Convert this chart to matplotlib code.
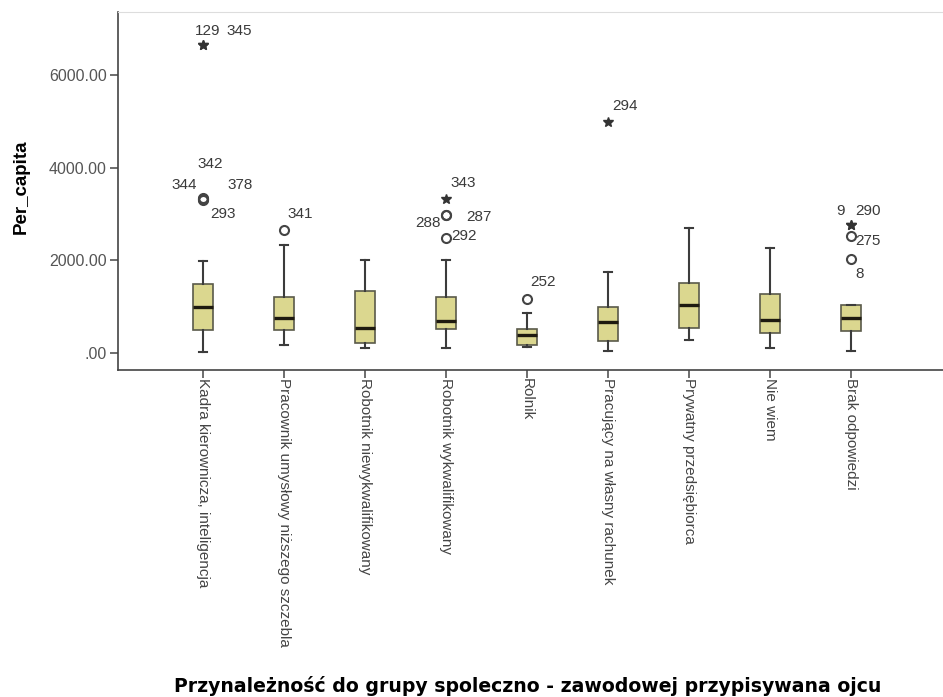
import matplotlib
matplotlib.use("Agg")
import matplotlib.pyplot as plt
from matplotlib.ticker import FuncFormatter

# categories (father's socio-professional group)
categories = [
    "Kadra kierownicza, inteligencja",
    "Pracownik umysłowy niższego szczebla",
    "Robotnik niewykwalifikowany",
    "Robotnik wykwalifikowany",
    "Rolnik",
    "Pracujący na własny rachunek",
    "Prywatny przedsiębiorca",
    "Nie wiem",
    "Brak odpowiedzi",
]

# box statistics
whislo = [20, 170, 110, 110, 130, 50, 290, 100, 50]
q1 = [500, 500, 215, 520, 170, 270, 530, 430, 480]
med = [1000, 760, 540, 690, 390, 660, 1040, 720, 760]
q3 = [1495, 1210, 1340, 1210, 520, 1000, 1520, 1280, 1040]
whishi = [1980, 2330, 2000, 2000, 870, 1760, 2690, 2270, 1040]

# outliers: category index, value, case id, kind (o = outlier, * = extreme)
out_cat = [0, 0, 0, 0, 0, 0, 1, 3, 3, 3, 3, 4, 5, 8, 8, 8, 8]
out_val = [6645, 6645, 3350, 3330, 3330, 3300, 2660, 3330, 2990, 2990, 2490,
           1170, 5000, 2770, 2770, 2520, 2030]
out_id = ["129", "345", "342", "344", "378", "293", "341", "343", "288", "287",
          "292", "252", "294", "9", "290", "275", "8"]
out_kind = ["*", "*", "o", "o", "o", "o", "o", "*", "o", "o", "o", "o", "*",
            "*", "*", "o", "o"]

# label offsets in pixels from each point
label_dx = [5, 36, 7, -19, 37, 20, 16, 17, -18, 33, 18, 16, 17, -10, 17, 17, 9]
label_dy = [14, 14, 34, 14, 14, -14, 16, 16, -8, -2, 2, 17, 16, 14, 14, -5, -15]

positions = list(range(1, len(categories) + 1))

fig = plt.figure(figsize=(9.43, 6.97), dpi=100)
ax = fig.add_axes([118 / 943, 1 - 370 / 697, 1 - 118 / 943, (370 - 12) / 697])

stats = []
for i in range(len(categories)):
    stats.append({"whislo": whislo[i], "q1": q1[i], "med": med[i],
                  "q3": q3[i], "whishi": whishi[i], "fliers": []})

ax.bxp(stats, positions=positions, widths=0.25, capwidths=0.1,
       patch_artist=True, showfliers=False,
       boxprops=dict(facecolor="#dbd78f", edgecolor="#5a5a4a", linewidth=1.2),
       medianprops=dict(color="#1e1a10", linewidth=2.4),
       whiskerprops=dict(color="#3c3c3c", linewidth=1.5),
       capprops=dict(color="#3c3c3c", linewidth=1.5))

for c, v, k in zip(out_cat, out_val, out_kind):
    x = positions[c]
    if k == "*":
        ax.plot(x, v, marker="*", color="#333333", markersize=7, zorder=4)
    else:
        ax.plot(x, v, marker="o", markerfacecolor="none",
                markeredgecolor="#444444", markeredgewidth=1.5,
                markersize=6.5, zorder=4)

for c, v, t, dx, dy in zip(out_cat, out_val, out_id, label_dx, label_dy):
    ax.annotate(t, (positions[c], v), xytext=(dx, dy),
                textcoords="offset pixels", ha="center", va="center",
                fontsize=11, color="#3a3a3a", family="Liberation Sans")

ax.set_xlim(-0.05, 10.14)
ax.set_ylim(-367, 7365)

ax.set_yticks([0, 2000, 4000, 6000])
ax.yaxis.set_major_formatter(
    FuncFormatter(lambda v, p: ".00" if v == 0 else f"{v:.2f}"))
ax.set_xticks(positions)
ax.set_xticklabels(categories, rotation=-90, va="top", ha="center",
                   fontsize=11, color="#444444", family="Liberation Sans")
for lab in ax.get_yticklabels():
    lab.set_family("Liberation Sans")
ax.tick_params(axis="y", labelsize=11.5, labelcolor="#555555", length=6,
               color="#555555", width=1.2, pad=2)
ax.tick_params(axis="x", length=6, color="#555555", width=1.2, pad=0)

ax.spines["right"].set_visible(False)
ax.spines["top"].set_color("#dddddd")
ax.spines["left"].set_color("#444444")
ax.spines["bottom"].set_color("#444444")
ax.spines["left"].set_linewidth(1.2)
ax.spines["bottom"].set_linewidth(1.2)

fig.text(21 / 943, 1 - 187 / 697, "Per_capita", rotation=90, ha="center",
         va="center", fontsize=13.5, fontweight="bold", family="Liberation Sans")
fig.text(528 / 943, 1 - 686 / 697,
         "Przynależność do grupy spoleczno - zawodowej przypisywana ojcu",
         ha="center", va="center", fontsize=13.6, fontweight="bold",
         family="DejaVu Sans")

fig.savefig("out.png", dpi=100)
